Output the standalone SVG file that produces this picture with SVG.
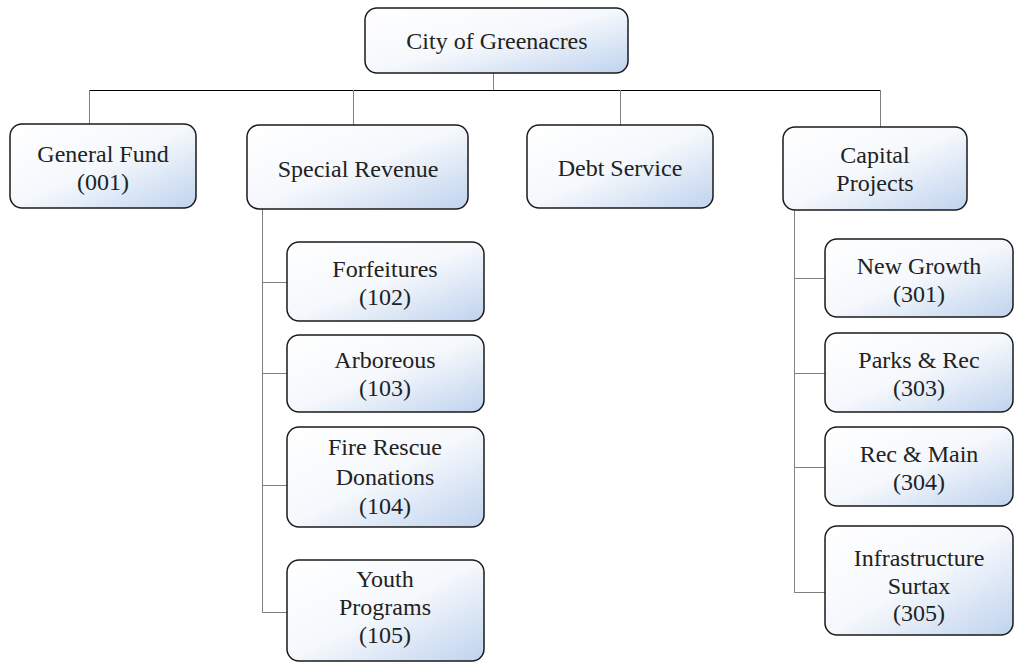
<svg xmlns="http://www.w3.org/2000/svg" width="1016" height="662" viewBox="0 0 1016 662">
<defs>
<linearGradient id="g" x1="0" y1="0" x2="1" y2="1">
<stop offset="0" stop-color="#ffffff"/>
<stop offset="0.5" stop-color="#f5f8fc"/>
<stop offset="1" stop-color="#bfd3ee"/>
</linearGradient>
<style>
rect.n{fill:url(#g);stroke:#1a1a1a;stroke-width:1.5}
text{font-family:"Liberation Serif","Times New Roman",serif;font-size:24px;fill:#222;text-anchor:middle}
.c line{stroke:#808080;stroke-width:1}
.c line.k{stroke:#000;stroke-width:1}
</style>
</defs>
<rect width="1016" height="662" fill="#fff"/>
<g class="c" id="connectors">
<line x1="493.5" y1="73" x2="493.5" y2="90"/>
<line class="k" x1="89" y1="90.5" x2="880" y2="90.5"/>
<line x1="89.5" y1="90" x2="89.5" y2="124"/>
<line x1="353.5" y1="90" x2="353.5" y2="125"/>
<line x1="620.5" y1="90" x2="620.5" y2="125"/>
<line x1="880.5" y1="90" x2="880.5" y2="127"/>
<line x1="262.5" y1="209" x2="262.5" y2="612"/>
<line x1="262" y1="282.5" x2="287" y2="282.5"/>
<line x1="262" y1="373.5" x2="287" y2="373.5"/>
<line x1="262" y1="485.5" x2="287" y2="485.5"/>
<line x1="262" y1="612.5" x2="287" y2="612.5"/>
<line x1="794.5" y1="210" x2="794.5" y2="592"/>
<line x1="794" y1="278.5" x2="825" y2="278.5"/>
<line x1="794" y1="373.5" x2="825" y2="373.5"/>
<line x1="794" y1="467.5" x2="825" y2="467.5"/>
<line x1="794" y1="592.5" x2="825" y2="592.5"/>
</g>
<g id="city"><rect class="n" x="365" y="8" width="263" height="65" rx="12"/><text x="497" y="49">City of Greenacres</text></g>
<g id="general"><rect class="n" x="10" y="124" width="186" height="84" rx="12"/><text x="103" y="162">General Fund</text><text x="103" y="190">(001)</text></g>
<g id="special"><rect class="n" x="247" y="125" width="221" height="84" rx="12"/><text x="358" y="177">Special Revenue</text></g>
<g id="debt"><rect class="n" x="527" y="125" width="186" height="83" rx="12"/><text x="620" y="176">Debt Service</text></g>
<g id="capital"><rect class="n" x="783" y="127" width="184" height="83" rx="12"/><text x="875" y="163">Capital</text><text x="875" y="191">Projects</text></g>
<g id="f102"><rect class="n" x="287" y="242" width="197" height="79" rx="12"/><text x="385" y="277">Forfeitures</text><text x="385" y="305">(102)</text></g>
<g id="f103"><rect class="n" x="287" y="335" width="197" height="77" rx="12"/><text x="385" y="368">Arboreous</text><text x="385" y="396">(103)</text></g>
<g id="f104"><rect class="n" x="287" y="427" width="197" height="100" rx="12"/><text x="385" y="455">Fire Rescue</text><text x="385" y="485">Donations</text><text x="385" y="514">(104)</text></g>
<g id="f105"><rect class="n" x="287" y="560" width="197" height="101" rx="12"/><text x="385" y="587">Youth</text><text x="385" y="615">Programs</text><text x="385" y="643">(105)</text></g>
<g id="f301"><rect class="n" x="825" y="239" width="188" height="78" rx="12"/><text x="919" y="274">New Growth</text><text x="919" y="302">(301)</text></g>
<g id="f303"><rect class="n" x="825" y="333" width="188" height="79" rx="12"/><text x="919" y="368">Parks &amp; Rec</text><text x="919" y="396">(303)</text></g>
<g id="f304"><rect class="n" x="825" y="427" width="188" height="79" rx="12"/><text x="919" y="462">Rec &amp; Main</text><text x="919" y="490">(304)</text></g>
<g id="f305"><rect class="n" x="825" y="526" width="188" height="109" rx="12"/><text x="919" y="566">Infrastructure</text><text x="919" y="594">Surtax</text><text x="919" y="621">(305)</text></g>
</svg>
